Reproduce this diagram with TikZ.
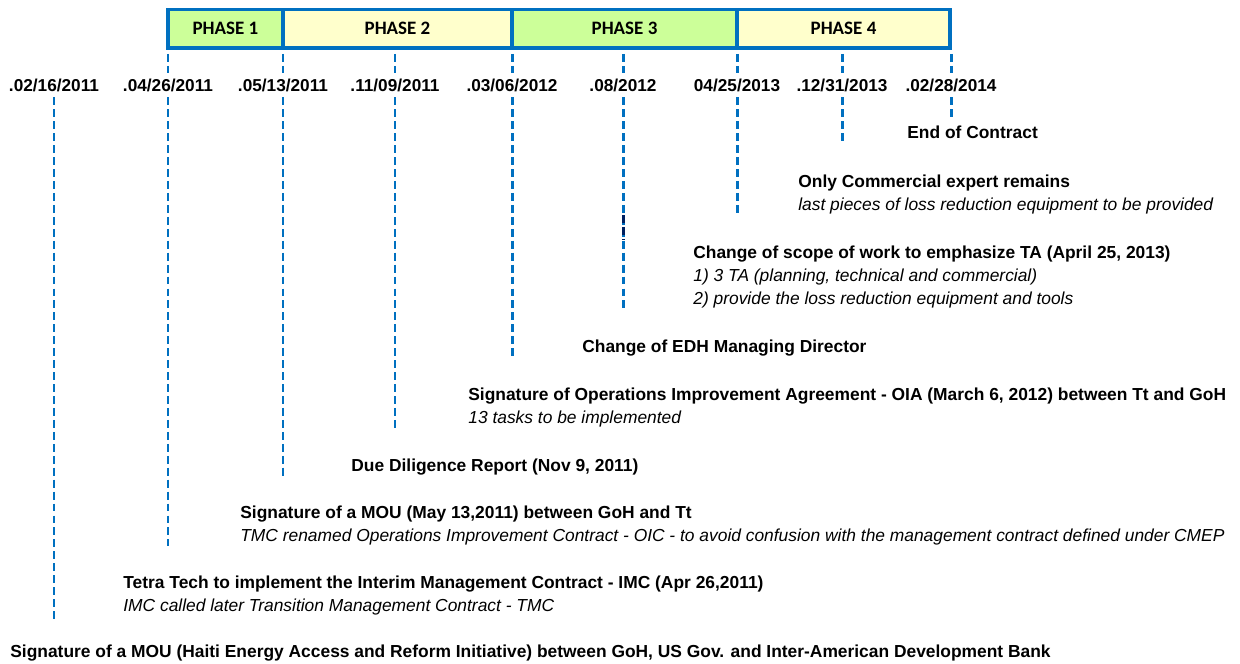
\documentclass[tikz,border=0pt]{standalone}
\usepackage{fontspec}
\setmainfont{Liberation Sans}
\newfontfamily\phasefont{Carlito}
\usepackage{tikz}
\definecolor{barblue}{HTML}{0070C0}
\definecolor{phgreen}{HTML}{CCFF99}
\definecolor{phyellow}{HTML}{FFFFCC}
\definecolor{darknavy}{HTML}{002060}

\begin{document}
\begin{tikzpicture}[x=0.02cm, y=-0.02cm,
    phase/.style={draw=barblue, line width=2.2pt, outer sep=0pt, inner sep=0pt, minimum height=0.77cm, font=\phasefont\bfseries\fontsize{10.8}{12}\selectfont},
    datelbl/.style={inner sep=0pt, minimum height=0.48cm, font=\bfseries\fontsize{9.8}{11}\selectfont},
    event/.style={anchor=north west, inner sep=0pt, align=left, font=\fontsize{9.9}{13}\selectfont},
    dateline/.style={draw=barblue, line width=1.7pt, dash pattern=on 4.5pt off 2.3pt}]
    \useasboundingbox (0,0) rectangle (1240,663);

    \node[phase, fill=phgreen, minimum width=2.3cm] (p1) at (225.5,28.75) {PHASE 1};
    \node[phase, fill=phyellow, minimum width=4.58cm] (p2) at (397.5,28.75) {PHASE 2};
    \node[phase, fill=phgreen, minimum width=4.5cm] (p3) at (624.5,28.75) {PHASE 3};
    \node[phase, fill=phyellow, minimum width=4.26cm] (p4) at (843.5,28.75) {PHASE 4};

    \node[datelbl] (d1) at (54,85) {.02/16/2011};
    \node[datelbl] (d2) at (168,85) {.04/26/2011};
    \node[datelbl] (d3) at (283,85) {.05/13/2011};
    \node[datelbl] (d4) at (395,85) {.11/09/2011};
    \node[datelbl] (d5) at (512,85) {.03/06/2012};
    \node[datelbl] (d6) at (623,85) {.08/2012};
    \node[datelbl] (d7) at (737,85) {04/25/2013};
    \node[datelbl] (d8) at (842,85) {.12/31/2013};
    \node[datelbl] (d9) at (951,85) {.02/28/2014};

    \node[event] (e1) at (10,645) {\textbf{Signature of a MOU (Haiti Energy Access and Reform Initiative) between GoH, US Gov. and Inter-American Development Bank}};
    \node[event] (e2) at (123,576) {\textbf{Tetra Tech to implement the Interim Management Contract - IMC (Apr 26,2011)}\\
        \textit{IMC called later Transition Management Contract - TMC}};
    \node[event] (e3) at (240,506) {\textbf{Signature of a MOU (May 13,2011) between GoH and Tt}\\
        \textit{TMC renamed Operations Improvement Contract - OIC - to avoid confusion with the management contract defined under CMEP}};
    \node[event] (e4) at (351,459) {\textbf{Due Diligence Report (Nov 9, 2011)}};
    \node[event] (e5) at (468,388) {\textbf{Signature of Operations Improvement Agreement - OIA (March 6, 2012) between Tt and GoH}\\
        \textit{13 tasks to be implemented}};
    \node[event] (e6) at (582,340) {\textbf{Change of EDH Managing Director}};
    \node[event] (e7) at (693,246) {\textbf{Change of scope of work to emphasize TA (April 25, 2013)}\\
        \textit{1) 3 TA (planning, technical and commercial)}\\
        \textit{2) provide the loss reduction equipment and tools}};
    \node[event] (e8) at (798,175) {\textbf{Only Commercial expert remains}\\
        \textit{last pieces of loss reduction equipment to be provided}};
    \node[event] (e9) at (907,126) {\textbf{End of Contract}};

    \draw[dateline] ([yshift=-0.12cm]d2.north |- p1.south) -- (d2.north);
    \draw[dateline] ([yshift=-0.12cm]d3.north |- p1.south) -- (d3.north);
    \draw[dateline] ([yshift=-0.12cm]d4.north |- p2.south) -- (d4.north);
    \draw[dateline] ([yshift=-0.12cm]d5.north |- p3.south) -- (d5.north);
    \draw[dateline] ([yshift=-0.12cm]d6.north |- p3.south) -- (d6.north);
    \draw[dateline] ([yshift=-0.12cm]d7.north |- p4.south) -- (d7.north);
    \draw[dateline] ([yshift=-0.12cm]d8.north |- p4.south) -- (d8.north);
    \draw[dateline] ([yshift=-0.12cm]d9.north |- p4.south) -- (d9.north);

    \draw[dateline] (d1.south) -- ([yshift=0.52cm]d1.south |- e1.north);
    \draw[dateline] (d2.south) -- ([yshift=0.6cm]d2.south |- e2.north);
    \draw[dateline] (d3.south) -- ([yshift=0.6cm]d3.south |- e3.north);
    \draw[dateline] (d4.south) -- ([yshift=0.6cm]d4.south |- e4.north);
    \draw[dateline] (d5.south) -- ([yshift=0.6cm]d5.south |- e5.north);
    \draw[dateline] (d6.south) -- ([yshift=0.6cm]d6.south |- e6.north);
    \draw[dateline] (d7.south) -- ([yshift=0.6cm]d7.south |- e7.north);
    \draw[dateline] (d8.south) -- ([yshift=0.6cm]d8.south |- e8.north);
    \draw[dateline] (d9.south) -- ([yshift=0.1cm]d9.south |- e9.north);

    \coordinate (navA) at (623,215);
    \coordinate (navB) at (623,240);
    \draw[dateline, draw=darknavy] (navA) -- (navB);
\end{tikzpicture}
\end{document}
